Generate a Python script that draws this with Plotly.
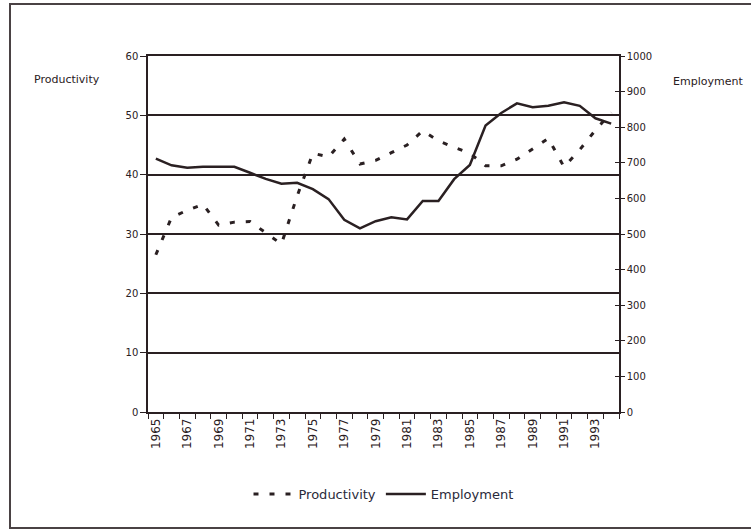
import plotly.graph_objects as go

years = list(range(1965, 1995))
productivity = [26.5, 32.8, 34.0, 35.0, 31.5, 32.0, 32.1, 30.2, 28.3, 36.4,
                43.6, 43.0, 46.0, 41.8, 42.4, 43.7, 45.0, 47.4, 45.7, 44.6,
                43.6, 41.5, 41.5, 42.6, 44.3, 46.1, 41.3, 44.2, 47.5, 50.5]
employment = [712, 693, 686, 689, 689, 689, 672, 655, 641, 644,
              626, 598, 540, 516, 536, 547, 541, 593, 593, 654,
              694, 805, 840, 867, 856, 860, 870, 860, 825, 810]
label_years = list(range(1965, 1995, 2))
left_ticks = [0, 10, 20, 30, 40, 50, 60]
right_ticks = list(range(0, 1001, 100))

INK = "#2a2022"
W, H = 751, 529
L, R, T, B = 148, 619, 56, 412

def px(x):
    return (x - L) / (R - L)

def py(y):
    return (B - y) / (B - T)

fig = go.Figure()
fig.add_trace(go.Scatter(
    x=years, y=productivity, name="Productivity", mode="lines",
    line=dict(color=INK, width=3, dash="5px,11px"), yaxis="y"))
fig.add_trace(go.Scatter(
    x=years, y=employment, name="Employment", mode="lines",
    line=dict(color=INK, width=2.5), yaxis="y2"))
# helper trace for inward right ticks (crossing tick look)
fig.add_trace(go.Scatter(x=[years[0]], y=[0], yaxis="y3", mode="markers",
                         marker=dict(opacity=0), showlegend=False, hoverinfo="skip"))

tickfont = dict(family="DejaVu Sans", size=10, color=INK)

fig.update_layout(
    width=W, height=H,
    margin=dict(l=L, r=W - R, t=T, b=H - B),
    paper_bgcolor="white", plot_bgcolor="white",
    showlegend=True,
    legend=dict(orientation="h", x=0.5, xanchor="center", y=py(494), yanchor="middle",
                font=dict(family="DejaVu Sans", size=13, color="#2a2a3a"),
                itemwidth=40, bgcolor="rgba(0,0,0,0)"),
    xaxis=dict(range=[1964.5, 1994.5], tickmode="array", tickvals=label_years,
               ticktext=[str(y) for y in label_years], tickangle=-90,
               ticks="", showgrid=False, showline=True, linecolor=INK, linewidth=1.5,
               mirror=True, zeroline=False, tickfont=dict(family="DejaVu Sans", size=12, color=INK),
               minor=dict(tickmode="array", tickvals=[y - 0.5 for y in years] + [1994.5],
                          ticks="outside", ticklen=5, tickcolor=INK, tickwidth=1, showgrid=False)),
    yaxis=dict(range=[0, 60], tickmode="array", tickvals=left_ticks,
               ticks="outside", ticklen=6, tickcolor=INK, showgrid=True,
               gridcolor=INK, gridwidth=1.5, showline=True, linecolor=INK, linewidth=1.5,
               zeroline=False, tickfont=tickfont),
    yaxis2=dict(range=[0, 1000], tickmode="array", tickvals=right_ticks,
                overlaying="y", side="right", ticks="outside", ticklen=4, tickcolor=INK,
                showgrid=False, showline=True, linecolor=INK, linewidth=1.5,
                zeroline=False, tickfont=tickfont),
    yaxis3=dict(range=[0, 1000], tickmode="array", tickvals=right_ticks,
                overlaying="y", side="right", ticks="inside", ticklen=4, tickcolor=INK,
                showgrid=False, showline=False, showticklabels=False, zeroline=False),
    annotations=[
        dict(text="Productivity", xref="paper", yref="paper", x=px(32), y=py(79),
             xanchor="left", yanchor="middle", showarrow=False,
             font=dict(family="DejaVu Sans", size=11, color=INK)),
        dict(text="Employment", xref="paper", yref="paper", x=px(671), y=py(82),
             xanchor="left", yanchor="middle", showarrow=False,
             font=dict(family="DejaVu Sans", size=11, color=INK)),
    ],
    shapes=[
        dict(type="rect", xref="paper", yref="paper", x0=px(10), x1=px(780),
             y0=py(528), y1=py(4), line=dict(color="#4a4244", width=2), layer="below"),
    ],
)

fig.write_html("out.html", config={"displayModeBar": False},
               post_script="document.body.style.margin='0';document.body.style.overflow='hidden';")
